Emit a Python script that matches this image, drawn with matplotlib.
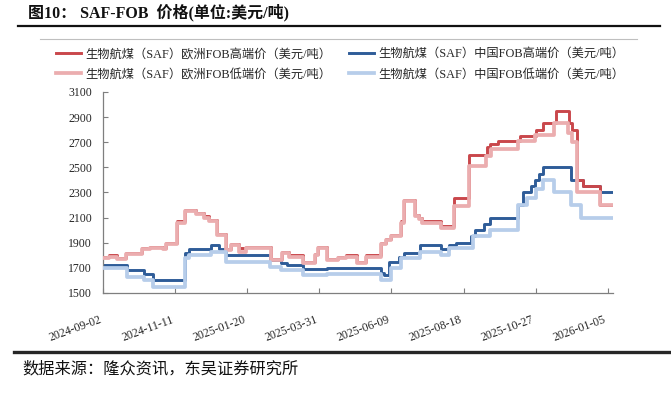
import numpy as np
import pandas as pd
import matplotlib
matplotlib.use("Agg")
import matplotlib.pyplot as plt
import matplotlib.dates as mdates
from matplotlib.lines import Line2D

plt.rcParams['font.family'] = ['Liberation Serif', 'Noto Sans CJK SC', 'DejaVu Sans']

########
# Series (step values)
eu_hi_dates = ["2024-09-02", "2024-09-08", "2024-09-16", "2024-09-24", "2024-10-10", "2024-10-18",
               "2024-10-30", "2024-11-02", "2024-11-13", "2024-11-21", "2024-12-01", "2024-12-09",
               "2024-12-14", "2024-12-22", "2024-12-30", "2025-01-04", "2025-01-12", "2025-01-19",
               "2025-02-12", "2025-02-23", "2025-03-02", "2025-03-15", "2025-03-27", "2025-03-30",
               "2025-04-07", "2025-04-18", "2025-04-26", "2025-05-07", "2025-05-15", "2025-05-30",
               "2025-06-04", "2025-06-09", "2025-06-18", "2025-06-21", "2025-07-02", "2025-07-06",
               "2025-07-09", "2025-07-27", "2025-08-09", "2025-08-23", "2025-09-10", "2025-09-13",
               "2025-09-20", "2025-10-12", "2025-10-27", "2025-11-03", "2025-11-16", "2025-11-28",
               "2025-12-01", "2025-12-06", "2025-12-12", "2025-12-28", "2026-01-10"]
eu_hi_vals = [1790, 1800, 1780, 1820, 1860, 1870, 1860, 1900, 2070, 2160, 2140, 2110,
              2080, 1970, 1850, 1890, 1860, 1870, 1770, 1830, 1800, 1750, 1810, 1870,
              1770, 1790, 1800, 1750, 1800, 1900, 1930, 1960, 2070, 2240, 2120, 2100,
              2070, 2030, 2260, 2600, 2660, 2690, 2710, 2750, 2800, 2850, 2950, 2850,
              2800, 2400, 2350, 2200, 2200]

eu_lo_dates = eu_hi_dates[:39] + ["2025-08-23", "2025-09-09", "2025-09-14", "2025-10-10",
                                  "2025-10-26", "2025-11-14", "2025-11-27", "2025-12-01",
                                  "2025-12-06", "2025-12-28", "2026-01-10"]
eu_lo_vals = [1780, 1790, 1770, 1810, 1850, 1860, 1850, 1890, 2060, 2150, 2130, 2100,
              2070, 1960, 1840, 1880, 1830, 1860, 1760, 1820, 1790, 1740, 1800, 1860,
              1760, 1780, 1790, 1740, 1790, 1890, 1920, 1950, 2060, 2230, 2110, 2090,
              2060, 2020, 2190, 2510, 2590, 2650, 2710, 2760, 2850, 2770, 2700,
              2300, 2200, 2200]

cn_hi_dates = ["2024-09-02", "2024-09-25", "2024-10-12", "2024-10-21", "2024-11-21", "2024-11-24",
               "2024-12-16", "2024-12-24", "2024-12-30", "2025-02-11", "2025-02-22", "2025-02-28",
               "2025-03-15", "2025-04-07", "2025-05-30", "2025-06-02", "2025-06-07", "2025-06-16",
               "2025-06-21", "2025-07-07", "2025-07-27", "2025-08-04", "2025-08-11", "2025-08-25",
               "2025-08-29", "2025-09-07", "2025-09-13", "2025-10-10", "2025-10-15", "2025-10-22",
               "2025-10-26", "2025-10-30", "2025-11-03", "2025-11-30", "2025-12-12", "2025-12-28",
               "2026-01-10"]
cn_hi_vals = [1720, 1680, 1650, 1600, 1820, 1850, 1880, 1850, 1800, 1760, 1740, 1720,
              1690, 1700, 1660, 1640, 1750, 1790, 1820, 1880, 1850, 1880, 1900, 1950,
              2000, 2050, 2100, 2200, 2300, 2350, 2400, 2450, 2500, 2400, 2350, 2300,
              2300]

cn_lo_dates = ["2024-09-02", "2024-09-25", "2024-10-12", "2024-10-21", "2024-11-21", "2024-11-24",
               "2024-12-16", "2024-12-30", "2025-02-11", "2025-02-22", "2025-03-15", "2025-04-07",
               "2025-05-30", "2025-06-09", "2025-06-18", "2025-07-07", "2025-07-27", "2025-08-04",
               "2025-08-27", "2025-09-13", "2025-10-10", "2025-10-19", "2025-10-27", "2025-11-03",
               "2025-11-14", "2025-11-30", "2025-12-10", "2026-01-10"]
cn_lo_vals = [1700, 1630, 1600, 1550, 1780, 1800, 1830, 1750, 1710, 1680, 1640, 1650,
              1600, 1700, 1780, 1830, 1800, 1860, 1950, 2000, 2200, 2260, 2330, 2400,
              2300, 2200, 2100, 2100]

labels = ["生物航煤（SAF）欧洲FOB高端价（美元/吨）",
          "生物航煤（SAF）欧洲FOB低端价（美元/吨）",
          "生物航煤（SAF）中国FOB高端价（美元/吨）",
          "生物航煤（SAF）中国FOB低端价（美元/吨）"]
tick_dates = pd.date_range("2024-09-02", periods=8, freq="70D")

########
fig = plt.figure(figsize=(6.71, 3.93), dpi=100)
ax = fig.add_axes([103 / 671, 1 - 293 / 393, 510 / 671, 201 / 393])

# drawing order: CN high, EU high, EU low, CN low
ax.plot(pd.to_datetime(cn_hi_dates), cn_hi_vals, drawstyle='steps-post', color='#2E5C98', lw=2.1, zorder=2)
ax.plot(pd.to_datetime(eu_hi_dates), eu_hi_vals, drawstyle='steps-post', color='#C9474B', lw=2.1, zorder=3)
ax.plot(pd.to_datetime(eu_lo_dates), eu_lo_vals, drawstyle='steps-post', color='#EBADAF', lw=2.7, zorder=4)
ax.plot(pd.to_datetime(cn_lo_dates), cn_lo_vals, drawstyle='steps-post', color='#B7CDEA', lw=2.7, zorder=4)

ax.set_xlim(pd.Timestamp("2024-09-02"), pd.Timestamp("2026-01-10"))
ax.set_ylim(1500, 3100)
ax.set_yticks(np.arange(1500, 3101, 200))
ax.set_xticks(tick_dates)
ax.xaxis.set_major_formatter(mdates.DateFormatter('%Y-%m-%d'))
for s in ['top', 'right']:
    ax.spines[s].set_visible(False)
for s in ['left', 'bottom']:
    ax.spines[s].set_color('#7F7F7F')
    ax.spines[s].set_linewidth(0.9)
ax.tick_params(axis='both', direction='in', length=3.5, color='#7F7F7F', labelsize=8.5,
               labelcolor='#262626')
ax.tick_params(axis='y', pad=8)
ax.tick_params(axis='x', pad=15)
for lab in ax.get_xticklabels():
    lab.set_rotation(20)
    lab.set_ha('right')
    lab.set_va('top')

# legend
handles = [Line2D([], [], color='#C9474B', lw=2.1), Line2D([], [], color='#EBADAF', lw=2.7),
           Line2D([], [], color='#2E5C98', lw=2.1), Line2D([], [], color='#B7CDEA', lw=2.7)]
fig.legend(handles, labels, ncol=2, frameon=False,
           loc='upper left', bbox_to_anchor=(50 / 671, 1 - 42 / 393), borderpad=0,
           prop={'size': 8.8}, handlelength=2.0, handletextpad=0.35, columnspacing=1.5,
           labelspacing=0.7, labelcolor='#262626')

# title, rules and source
fig.text(28 / 671, 1 - 13 / 393, "图10： SAF-FOB  价格(单位:美元/吨)", fontsize=11.5,
         fontweight='bold', va='center', ha='left', color='#111111')
fig.add_artist(Line2D([18 / 671, 660 / 671], [1 - 26 / 393] * 2, color='#111111', lw=1.6))
fig.add_artist(Line2D([40 / 671, 637 / 671], [1 - 39 / 393] * 2, color='#BFBFBF', lw=0.8))
fig.add_artist(Line2D([14 / 671, 1.0], [1 - 352 / 393] * 2, color='#262626', lw=2.4))
fig.text(22 / 671, 1 - 369 / 393, "数据来源：隆众资讯，东吴证券研究所", fontsize=11.7,
         va='center', ha='left', color='#111111')

fig.savefig("out.png", dpi=100)
